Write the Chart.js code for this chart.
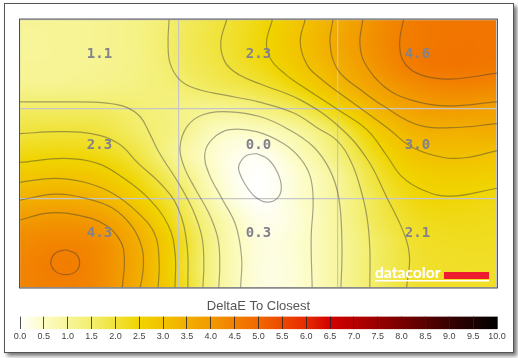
<!DOCTYPE html>
<html>
<head>
<meta charset="utf-8">
<style>
    html, body { margin: 0; padding: 0; background: #fff; }
    #frame { position: absolute; left: 4px; top: 3px; width: 508px; height: 348px; border: 1px solid #555; box-shadow: 3px 3px 4px #777; background: #fff; }
    canvas { position: absolute; left: 0; }
    #field { top: 0; }
    #scale { top: 295px; }
</style>
<script src="https://cdn.jsdelivr.net/npm/chart.js@4"></script>
</head>
<body>
<div id="frame"></div>
<canvas id="field" width="518" height="300"></canvas>
<canvas id="scale" width="518" height="55"></canvas>
<script>
// Colour scale
const scaleTicks = [0, 0.5, 1, 1.5, 2, 2.5, 3, 3.5, 4, 4.5, 5, 5.5, 6, 6.5, 7, 7.5, 8, 8.5, 9, 9.5, 10];
const scaleColors = ['#ffffff', '#fcfcc4', '#f7f59a', '#f3ee6e', '#f0e238', '#f0d400', '#f2c200', '#f2ae00', '#f29a00', '#f27f00', '#f06800',
    '#ee4800', '#e62a00', '#d20000', '#b80000', '#980000', '#780000', '#580000', '#380000', '#1c0000', '#000000'];

// Measured patches
const labelX = [80, 240, 400];
const labelY = [34, 126, 214];
const patchValues = [1.1, 2.3, 4.6, 2.3, 0.0, 3.0, 4.3, 0.3, 2.1];

// DeltaE, one row every 22.5 units, one column every 40 units
const row0 = [1.05, 1.05, 1.1, 1.25, 1.6, 1.95, 2.35, 2.9, 3.55, 4.2, 4.6, 4.7, 4.7];
const row1 = [1.0, 1.05, 1.1, 1.25, 1.65, 1.98, 2.4, 2.97, 3.65, 4.25, 4.6, 4.72, 4.72];
const row2 = [1.05, 1.05, 1.1, 1.25, 1.6, 1.9, 2.3, 2.85, 3.5, 4.15, 4.6, 4.72, 4.65];
const row3 = [1.15, 1.15, 1.2, 1.3, 1.45, 1.7, 1.95, 2.47, 3.2, 3.85, 4.25, 4.4, 4.35];
const row4 = [1.6, 1.6, 1.6, 1.45, 1.25, 1.1, 1.3, 1.75, 2.5, 3.35, 3.85, 3.95, 3.85];
const row5 = [1.95, 2.0, 1.93, 1.55, 1.2, 0.55, 0.55, 0.95, 1.75, 2.75, 3.4, 3.45, 3.55];
const row6 = [2.35, 2.4, 2.3, 1.85, 1.0, 0.35, 0.15, 0.6, 1.4, 2.35, 3.0, 3.1, 3.0];
const row7 = [2.85, 2.95, 2.8, 2.25, 1.4, 0.4, 0.02, 0.4, 1.05, 2.05, 2.6, 2.7, 2.65];
const row8 = [3.45, 3.55, 3.35, 2.65, 1.75, 0.55, 0.04, 0.4, 1.0, 1.85, 2.4, 2.45, 2.35];
const row9 = [4.0, 4.1, 3.95, 3.2, 2.05, 0.9, 0.2, 0.35, 1.0, 1.75, 2.2, 2.3, 2.25];
const row10 = [4.3, 4.4, 4.25, 3.5, 2.35, 1.0, 0.3, 0.4, 0.95, 1.6, 2.1, 2.2, 2.2];
const row11 = [4.4, 4.55, 4.3, 3.55, 2.3, 1.0, 0.3, 0.38, 0.95, 1.6, 2.05, 2.15, 2.15];
const row12 = [4.4, 4.5, 4.3, 3.5, 2.4, 1.0, 0.3, 0.38, 0.95, 1.6, 2.1, 2.15, 2.15];
const fieldRows = [row0, row1, row2, row3, row4, row5, row6, row7, row8, row9, row10, row11, row12];

// Contour lines
const contourInner = [[238,135],[250,141],[259,154],[263,169],[259,180],[248,184],[236,178],[226,165],[220,151],[222,143],[228,137],[238,135]];
const contour05 = [[222,270],[223,240],[217,207],[203,180],[190,155],[186,135],[194,120],[211,111],[238,113],[265,125],[282,140],[292,158],[295,182],[293,220],[294,270]];
const contour10 = [[200,270],[201,246],[199,220],[190,195],[176,170],[165,148],[161,129],[168,108],[184,96],[211,93],[242,98],[269,110],[295,128],[312,152],[321,181],[324,228],[323,270]];
const contour15a = [[0,83],[50,83],[85,84],[106,88],[121,98],[131,116],[140,134],[159,164],[174,192],[183,219],[185,246],[184,270]];
const contour15b = [[150,0],[149,24],[151,44],[160,60],[175,69],[205,76],[240,83],[275,94],[299,109],[319,122],[333,143],[342,168],[349,198],[352,230],[352,270]];
const contour20a = [[0,115],[38,113],[72,115],[99,125],[119,145],[143,167],[159,190],[168,227],[169,270]];
const contour20b = [[208,0],[202,24],[207,44],[221,56],[242,65],[282,81],[320,107],[349,140],[369,179],[387,217],[392,240],[389,270]];
const contour25a = [[0,144],[45,140],[78,145],[103,159],[129,180],[149,207],[156,235],[156,270]];
const contour25b = [[254,0],[248,24],[253,41],[268,56],[282,66],[320,91],[349,111],[369,137],[384,158],[406,172],[433,178],[480,170]];
const contour30a = [[0,164],[35,160],[65,164],[93,175],[119,195],[136,217],[140,245],[139,270]];
const contour30b = [[287,0],[282,23],[289,46],[303,60],[320,73],[342,89],[372,111],[395,129],[426,139],[450,139],[480,132]];
const contour35a = [[0,182],[35,176],[65,180],[93,190],[113,209],[123,231],[124,251],[121,270]];
const contour35b = [[315,0],[312,24],[320,51],[343,71],[367,88],[400,106],[434,109],[480,105]];
const contour40a = [[0,202],[28,195],[58,197],[86,207],[101,223],[105,241],[103,270]];
const contour40b = [[345,0],[342,24],[347,44],[367,68],[393,81],[428,87],[480,83]];
const contour45a = [[46,232],[56,236],[60,245],[56,254],[46,257],[36,254],[31,245],[36,235],[46,232]];
const contour45b = [[386,0],[382,24],[387,44],[404,56],[434,60],[480,54]];
const contours = [contourInner, contour05, contour10, contour15a, contour15b, contour20a, contour20b, contour25a, contour25b,
    contour30a, contour30b, contour35a, contour35b, contour40a, contour40b, contour45a, contour45b];

function hexToRgb(hex) {
    return [1, 3, 5].map(i => parseInt(hex.substr(i, 2), 16));
}

const scaleRgb = scaleColors.map(hexToRgb);

function colorFor(value) {
    const pos = Math.max(0, Math.min(value / 0.5, scaleRgb.length - 1.001));
    const i = Math.floor(pos);
    const a = scaleRgb[i];
    const b = scaleRgb[i + 1];
    return a.map((c, k) => Math.round(c + (b[k] - c) * (pos - i)));
}

function cubic(p0, p1, p2, p3, t) {
    return p1 + 0.5 * t * (p2 - p0 + t * (2 * p0 - 5 * p1 + 4 * p2 - p3 + t * (3 * (p1 - p2) + p3 - p0)));
}

function fieldAt(u, v) {
    const c = Math.min(Math.floor(u), row0.length - 2);
    const r = Math.min(Math.floor(v), fieldRows.length - 2);
    const clampRow = i => fieldRows[Math.max(0, Math.min(fieldRows.length - 1, i))];
    const clampCol = i => Math.max(0, Math.min(row0.length - 1, i));
    const vals = [r - 1, r, r + 1, r + 2].map(i => {
        const row = clampRow(i);
        return cubic(row[clampCol(c - 1)], row[clampCol(c)], row[clampCol(c + 1)], row[clampCol(c + 2)], u - c);
    });
    return cubic(vals[0], vals[1], vals[2], vals[3], v - r);
}

// Paints the value rows as one smooth image, placed with the chart's scales
const fieldPlugin = {
    id: 'fieldPlugin',
    beforeDraw(chart) {
        const { ctx, chartArea, scales } = chart;
        const w = Math.round(chartArea.width);
        const h = Math.round(chartArea.height);
        const img = ctx.createImageData(w, h);
        for (let py = 0; py < h; py++) {
            const v = Math.max(0, scales.y.getValueForPixel(chartArea.top + py + 0.5)) / 22.5;
            for (let px = 0; px < w; px++) {
                const u = Math.max(0, scales.x.getValueForPixel(chartArea.left + px + 0.5)) / 40;
                const rgb = colorFor(fieldAt(u, v));
                img.data.set([rgb[0], rgb[1], rgb[2], 255], (py * w + px) * 4);
            }
        }
        ctx.putImageData(img, Math.round(chartArea.left), Math.round(chartArea.top));
    },
    afterDraw(chart) {
        const { ctx, chartArea, scales } = chart;
        ctx.save();
        // patch values
        ctx.font = "bold 14px 'DejaVu Sans Mono'";
        ctx.fillStyle = '#82828c';
        ctx.textAlign = 'center';
        ctx.textBaseline = 'middle';
        patchValues.forEach((v, i) => {
            const x = scales.x.getPixelForValue(labelX[i % 3]);
            const y = scales.y.getPixelForValue(labelY[Math.floor(i / 3)]);
            ctx.fillText(v.toFixed(1), x, y + 1);
        });
        // plot border
        ctx.strokeStyle = 'rgba(50,50,50,0.8)';
        ctx.lineWidth = 1;
        ctx.strokeRect(chartArea.left - 0.5, chartArea.top - 0.5, chartArea.width + 1, chartArea.height + 1);
        // logo
        ctx.fillStyle = '#ed1c2e';
        ctx.fillRect(444, 272, 45, 7);
        ctx.font = "900 15.5px 'Lato'";
        ctx.fillStyle = '#ffffff';
        ctx.textAlign = 'left';
        ctx.textBaseline = 'alphabetic';
        ctx.fillText('datacolor', 375, 278);
        ctx.fillRect(375, 280, 114, 1.5);
        ctx.restore();
    }
};

new Chart(document.getElementById('field'), {
    type: 'scatter',
    data: {
        datasets: contours.map(line => ({
            data: line.map(p => ({ x: p[0], y: p[1] })),
            showLine: true,
            tension: 0.4,
            pointRadius: 0,
            borderWidth: 1.2,
            borderColor: 'rgba(60,60,60,0.45)'
        }))
    },
    options: {
        responsive: false,
        animation: false,
        layout: { padding: { left: 20, top: 19.5, right: 21, bottom: 12.5 } },
        plugins: { legend: { display: false }, tooltip: { enabled: false } },
        scales: {
            x: {
                type: 'linear', min: 0, max: 480,
                ticks: { display: false, stepSize: 160 },
                grid: { color: '#c6c6c6', lineWidth: 1.2, drawTicks: false },
                border: { display: false }
            },
            y: {
                type: 'linear', min: 0, max: 270, reverse: true,
                ticks: { display: false, stepSize: 90 },
                grid: { color: '#c6c6c6', lineWidth: 1.2, drawTicks: false },
                border: { display: false }
            }
        }
    },
    plugins: [fieldPlugin]
});

new Chart(document.getElementById('scale'), {
    type: 'bar',
    data: {
        labels: ['DeltaE'],
        datasets: [{
            data: [[scaleTicks[0], scaleTicks[scaleTicks.length - 1]]],
            barPercentage: 1,
            categoryPercentage: 1,
            backgroundColor(context) {
                const { chartArea, ctx } = context.chart;
                if (!chartArea) return '#ffffff';
                const grad = ctx.createLinearGradient(chartArea.left, 0, chartArea.right, 0);
                scaleTicks.forEach((t, i) => grad.addColorStop(t / 10, scaleColors[i]));
                return grad;
            }
        }]
    },
    options: {
        indexAxis: 'y',
        responsive: false,
        animation: false,
        layout: { padding: { left: 20, right: 21, top: 4, bottom: 6 } },
        plugins: {
            legend: { display: false },
            tooltip: { enabled: false },
            title: {
                display: true,
                text: 'DeltaE To Closest',
                color: '#555555',
                font: { family: "'Liberation Sans'", size: 13, weight: 'normal' },
                padding: { top: 0, bottom: 2 }
            }
        },
        scales: {
            x: {
                type: 'linear', min: 0, max: 10,
                afterBuildTicks(axis) { axis.ticks = scaleTicks.map(v => ({ value: v })); },
                ticks: {
                    maxRotation: 0, autoSkip: false, padding: 2, color: '#444444',
                    font: { family: "'Liberation Sans'", size: 9 },
                    callback: v => v.toFixed(1)
                },
                grid: { color: 'rgba(35,35,35,0.8)', lineWidth: 1, drawTicks: false, z: 1 },
                border: { display: false }
            },
            y: { display: false }
        }
    }
});
</script>
</body>
</html>
